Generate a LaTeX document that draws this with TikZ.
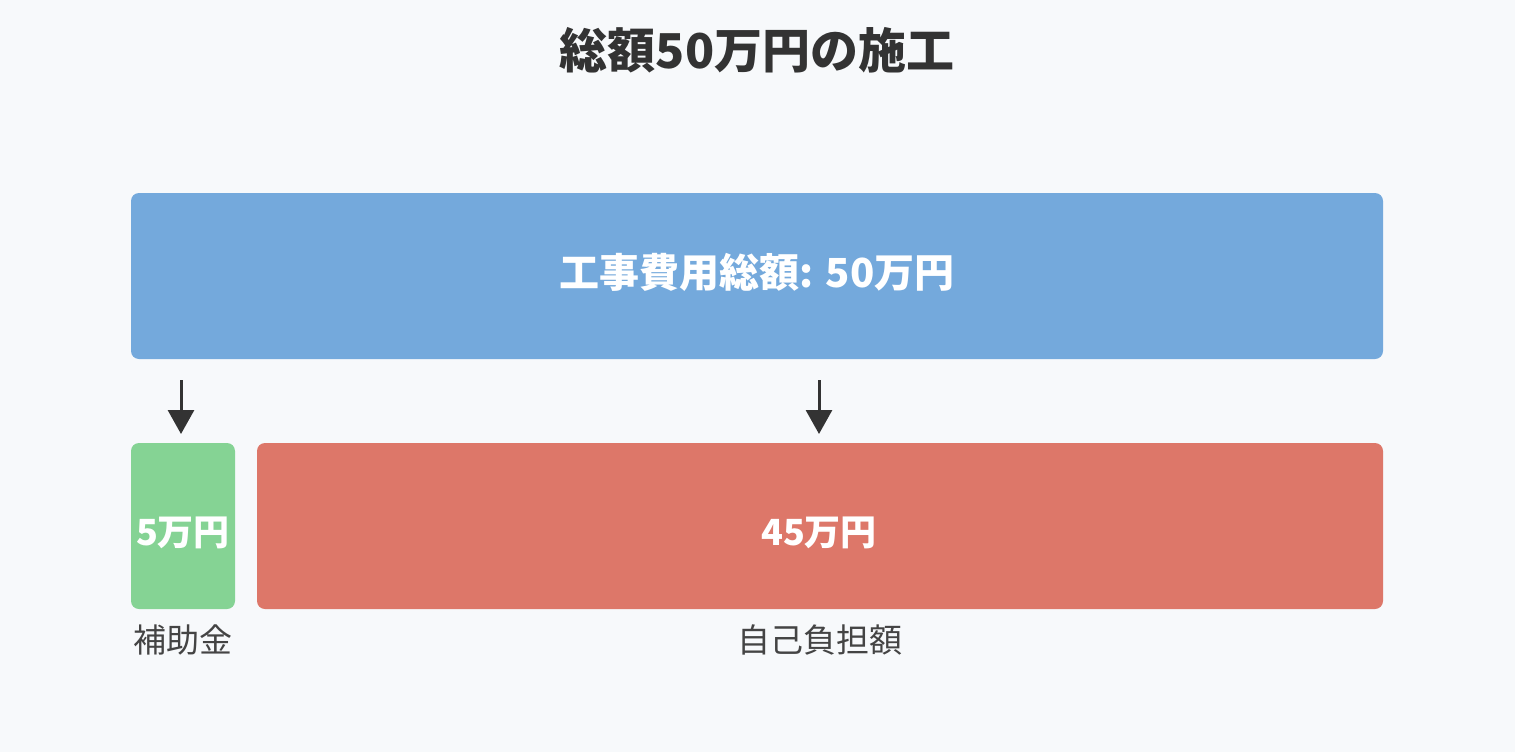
\documentclass[tikz,border=0pt]{standalone}
\usepackage{fontspec}
\setmainfont{Noto Sans CJK JP}
\usetikzlibrary{arrows.meta}
\definecolor{bg}{HTML}{F7F9FB}
\definecolor{bluebox}{HTML}{74A9DC}
\definecolor{greenbox}{HTML}{85D394}
\definecolor{redbox}{HTML}{DD7769}
\definecolor{ink}{HTML}{333333}
\definecolor{labelink}{HTML}{444444}
\tikzset{
  box/.style={rounded corners=8pt, inner sep=0pt},
  boxtext/.style={text=white, inner sep=0pt, font=\fontsize{36}{40}\selectfont\bfseries},
  lbl/.style={text=labelink, inner sep=0pt, font=\fontsize{33}{36}\selectfont},
  arr/.style={draw=ink, line width=3pt, -{Triangle[length=24pt,width=26pt]}},
}
\begin{document}
\begin{tikzpicture}[x=1pt,y=-1pt]
\fill[bg] (0,0) rectangle (1515,752);
\useasboundingbox (0,0) rectangle (1515,752);
\node[text=ink, inner sep=0pt, font=\fontsize{48}{52}\selectfont\bfseries] (title) at (757,50) {総額50万円の施工};
\node[box, fill=bluebox, minimum width=1252pt, minimum height=166pt] (total) at (757,276) {};
\node[boxtext, font=\fontsize{40}{44}\selectfont\bfseries] (totaltext) at (757,272) {工事費用総額: 50万円};
\node[box, fill=greenbox, minimum width=104pt, minimum height=166pt] (sub) at (183,526) {};
\node[boxtext] (subtext) at (183,533) {5万円};
\node[box, fill=redbox, minimum width=1126pt, minimum height=166pt] (self) at (820,526) {};
\node[boxtext] (selftext) at (819,533) {45万円};
\node[lbl] (sublbl) at (183,640) {補助金};
\node[lbl] (selflbl) at (820,640) {自己負担額};
\coordinate (a1s) at (181,380);
\coordinate (a2s) at (819,380);
\draw[arr] (a1s) -- (a1s |- 0,434);
\draw[arr] (a2s) -- (a2s |- 0,434);
\end{tikzpicture}
\end{document}
